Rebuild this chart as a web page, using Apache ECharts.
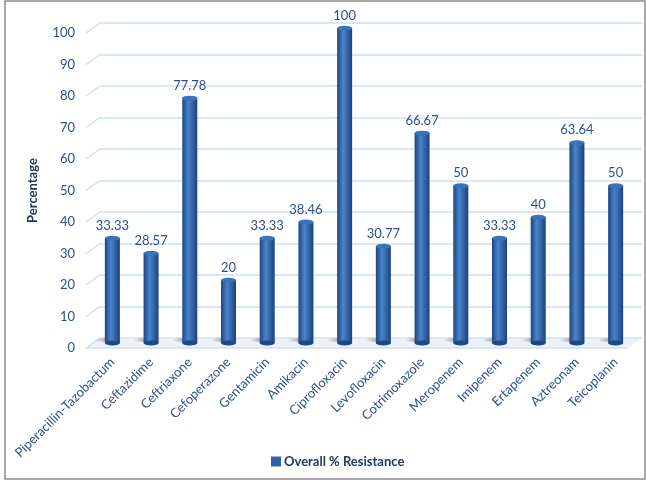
<!DOCTYPE html>
<html>
<head>
<meta charset="utf-8">
<script src="https://cdn.jsdelivr.net/npm/echarts@6/dist/echarts.min.js"></script>
<style>html,body{margin:0;padding:0;background:#fff}#c{width:646px;height:480px}</style>
</head>
<body>
<div id="c"></div>
<script>
var categories = ['Piperacillin-Tazobactum','Ceftazidime','Ceftriaxone','Cefoperazone','Gentamicin','Amikacin','Ciprofloxacin','Levofloxacin','Cotrimoxazole','Meropenem','Imipenem','Ertapenem','Aztreonam','Teicoplanin'];
var resistance = [33.33, 28.57, 77.78, 20, 33.33, 38.46, 100, 30.77, 66.67, 50, 33.33, 40, 63.64, 50];
var yTicks = [0, 10, 20, 30, 40, 50, 60, 70, 80, 90, 100];
var seriesName = 'Overall % Resistance';
var yTitle = 'Percentage';

var FONT = 'Lato';
var TXT = '#2F4F8F';
var GRIDC = '#CFDFF2';
var DX = 14, DY = -10;

var chart = echarts.init(document.getElementById('c'));
var barGrad = new echarts.graphic.LinearGradient(0, 0, 1, 0, [
  {offset: 0, color: '#1C4482'},
  {offset: 0.4, color: '#4A84CB'},
  {offset: 1, color: '#1B417D'}
]);

chart.setOption({
  animation: false,
  textStyle: {fontFamily: FONT},
  graphic: [{type: 'rect', shape: {x: 5, y: 1, width: 640, height: 478}, style: {fill: 'none', stroke: '#8C8C8C', lineWidth: 1.5}, silent: true, z: 100}],
  legend: {
    data: [seriesName], bottom: 7, left: 266,
    itemWidth: 10, itemHeight: 10, icon: 'rect', itemGap: 3,
    itemStyle: {color: '#2E62AE'},
    textStyle: {fontFamily: FONT, fontSize: 13, fontWeight: 'bold', color: '#1F3864', padding: [0, 0, 0, -2]}
  },
  grid: [
    {left: 86, right: 18, top: 33, bottom: 132},
    {left: 100, right: 4, top: 23, bottom: 142},
    {left: 93, right: 11, top: 28, bottom: 137}
  ],
  xAxis: [
    {type: 'category', gridIndex: 0, data: categories, show: false},
    {type: 'category', gridIndex: 1, data: categories, show: false},
    {type: 'category', gridIndex: 2, data: categories,
     axisLine: {show: false}, axisTick: {show: false},
     axisLabel: {rotate: 45, interval: 0, margin: 17, fontSize: 13, color: TXT, fontFamily: FONT}}
  ],
  yAxis: [
    {type: 'value', gridIndex: 0, min: 0, max: 100, interval: 10,
     name: yTitle, nameLocation: 'middle', nameGap: 47,
     nameTextStyle: {fontFamily: FONT, fontSize: 13, fontWeight: 'bold', color: '#1F3864'},
     axisLine: {show: false}, axisTick: {show: false}, splitLine: {show: false},
     axisLabel: {fontSize: 13, color: TXT, margin: 11, fontFamily: FONT}},
    {type: 'value', gridIndex: 1, min: 0, max: 100, interval: 10,
     axisLine: {show: false}, axisTick: {show: false}, axisLabel: {show: false},
     splitLine: {show: true, lineStyle: {color: GRIDC, width: 1.5}}},
    {type: 'value', gridIndex: 2, min: 0, max: 100, interval: 10,
     axisLine: {show: false}, axisTick: {show: false}, axisLabel: {show: false}, splitLine: {show: false}}
  ],
  series: [
    {
      type: 'custom', xAxisIndex: 0, yAxisIndex: 0, silent: true, z: 1,
      data: yTicks.map(function (v) { return [0, v]; }),
      encode: {x: 0, y: 1},
      renderItem: function (params, api) {
        var cs = params.coordSys;
        var y = api.coord([0, api.value(1)])[1];
        var children = [{type: 'line', shape: {x1: cs.x, y1: y, x2: cs.x + DX, y2: y + DY}, style: {stroke: GRIDC, lineWidth: 1.5}}];
        if (api.value(1) === 0) {
          children.push({type: 'polygon', shape: {points: [[cs.x, y], [cs.x + DX, y + DY], [cs.x + cs.width + DX, y + DY], [cs.x + cs.width, y]]}, style: {fill: 'rgba(220,230,242,0.5)'}});
          children.push({type: 'line', shape: {x1: cs.x, y1: y, x2: cs.x + cs.width, y2: y}, style: {stroke: GRIDC, lineWidth: 1.5}});
        }
        return {type: 'group', children: children};
      }
    },
    {
      type: 'pictorialBar', xAxisIndex: 2, yAxisIndex: 2, silent: true, z: 2,
      symbol: 'circle', symbolPosition: 'start', symbolSize: [26, 6], symbolOffset: [-5, 0],
      itemStyle: {color: new echarts.graphic.RadialGradient(0.5, 0.5, 0.5, [{offset: 0, color: 'rgba(60,60,60,0.55)'}, {offset: 1, color: 'rgba(120,120,120,0)'}])},
      data: resistance
    },
    {
      name: seriesName, type: 'bar', xAxisIndex: 2, yAxisIndex: 2, barWidth: 15, z: 3,
      itemStyle: {color: barGrad},
      label: {show: true, position: 'top', distance: 6, fontSize: 13, color: TXT, fontFamily: FONT},
      data: resistance
    },
    {
      type: 'pictorialBar', xAxisIndex: 2, yAxisIndex: 2, silent: true, z: 4,
      symbol: 'circle', symbolPosition: 'start', symbolSize: [15, 5], symbolOffset: [0, '50%'],
      itemStyle: {color: '#1E4783'},
      data: resistance
    },
    {
      type: 'pictorialBar', xAxisIndex: 2, yAxisIndex: 2, silent: true, z: 5,
      symbol: 'circle', symbolPosition: 'end', symbolSize: [15, 5], symbolOffset: [0, '-50%'],
      itemStyle: {color: '#3B72B8', borderColor: '#2A5A9C', borderWidth: 0.5},
      data: resistance
    }
  ]
});
</script>
</body>
</html>
